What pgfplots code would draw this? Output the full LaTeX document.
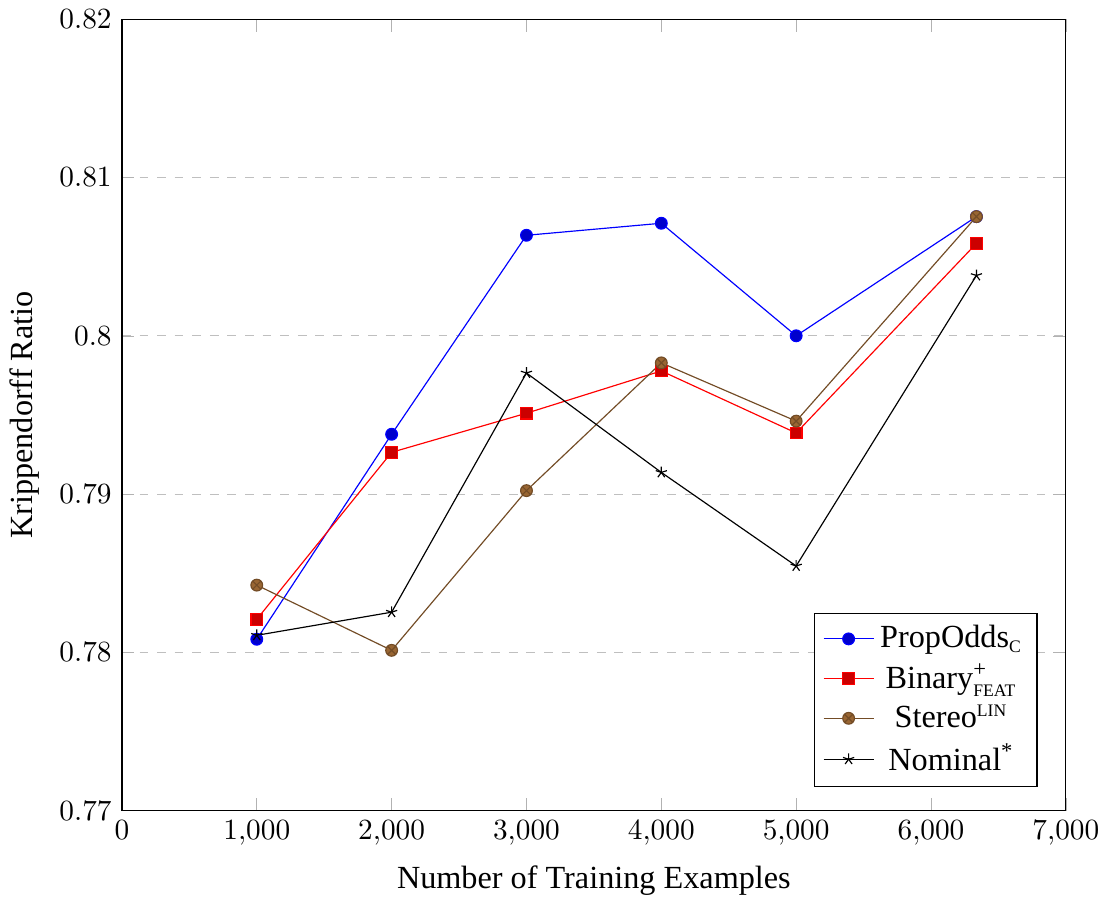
\documentclass[border=0pt]{standalone}
\usepackage{fontspec}
\setmainfont{Liberation Serif}
\usepackage{amsmath}
\usepackage{pgfplots}
\pgfplotsset{compat=1.18}
\newcommand{\sm}[1]{{\fontsize{6}{7}\selectfont #1}}

\begin{document}
\begin{tikzpicture}
\begin{axis}[
  scale only axis,
  width=322pt,height=270pt,
  xmin=0,xmax=7000,ymin=0.77,ymax=0.82,
  xtick={0,1000,...,7000},ytick={0.77,0.78,...,0.82},
  yticklabel style={/pgf/number format/fixed,/pgf/number format/precision=2},
  xlabel={Number of Training Examples},ylabel={Krippendorff Ratio},
  label style={font=\fontsize{11}{13}\selectfont},
  legend style={font=\fontsize{11}{13}\selectfont},
  ymajorgrids,grid style={dashed,gray!50},
  major tick style={gray!60},
  legend pos=south east,
  legend cell align=center,
  cycle list name=color]
\addplot coordinates {
  (1000,0.78083) (2000,0.79378) (3000,0.80635) (4000,0.80711) (5000,0.8000) (6337,0.80753)};
\addlegendentry{PropOdds\textsubscript{\sm{C}}}
\addplot coordinates {
  (1000,0.78209) (2000,0.79264) (3000,0.79511) (4000,0.79778) (5000,0.79386) (6337,0.80584)};
\addlegendentry{Binary$^{\text{+}}_{\text{\sm{FEAT}}}$}
\addplot coordinates {
  (1000,0.78425) (2000,0.78013) (3000,0.79022) (4000,0.79829) (5000,0.79461) (6337,0.80753)};
\addlegendentry{Stereo\textsuperscript{\sm{LIN}}}
\addplot coordinates {
  (1000,0.78108) (2000,0.78254) (3000,0.79765) (4000,0.79137) (5000,0.78546) (6337,0.80381)};
\addlegendentry{Nominal\textsuperscript{*}}
\end{axis}
\end{tikzpicture}
\end{document}
